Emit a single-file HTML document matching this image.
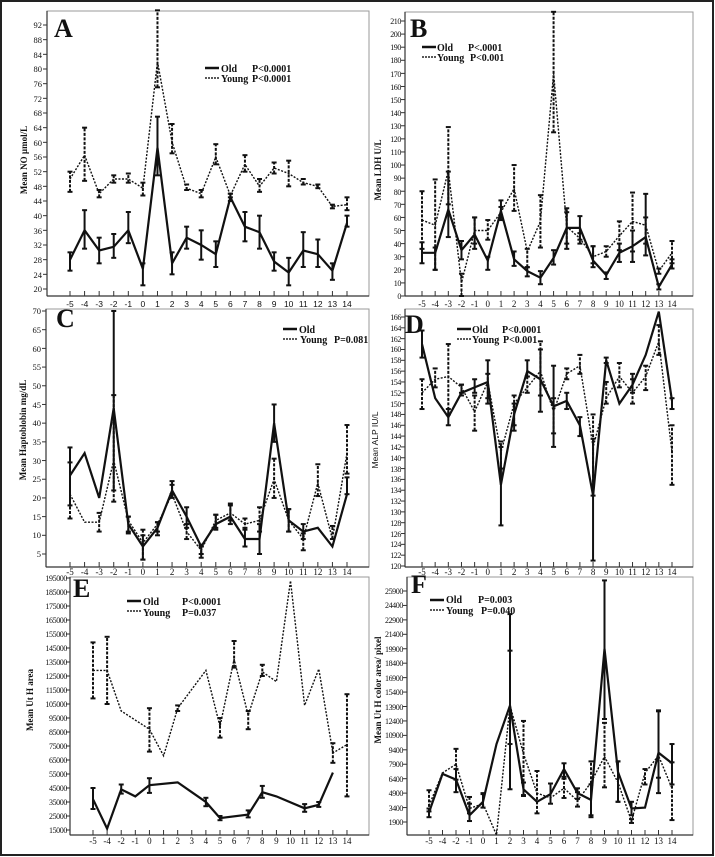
<!DOCTYPE html>
<html><head><meta charset="utf-8"><style>
html,body{margin:0;padding:0;background:#fff}
svg{display:block}
text{font-family:"Liberation Serif",serif;font-size:8.5px;fill:#111}
.yl{text-anchor:end}
.yn{text-anchor:end;font-size:8px;letter-spacing:-0.4px}
.xl{text-anchor:middle;font-size:9px}
.xs{text-anchor:middle;font-family:"Liberation Sans",sans-serif;font-size:8.5px}
.big{font-size:26px;font-weight:bold}
.lg{font-size:10px;font-weight:bold}
.at{font-size:9px;font-weight:bold}
</style></head><body>
<svg id="s" width="715" height="857" viewBox="0 0 715 857" xmlns="http://www.w3.org/2000/svg">
<rect x="1" y="1" width="712" height="854" fill="#fff" stroke="#222" stroke-width="2"/>
<g id="geo"></g>
<!-- Panel A -->
<text class="big" x="54" y="37">A</text>
<text class="lg" x="221" y="72">Old</text><text class="lg" x="252" y="72">P&lt;0.0001</text>
<text class="lg" x="221" y="82">Young</text><text class="lg" x="252" y="82">P&lt;0.0001</text>
<text class="at" transform="translate(27,160) rotate(-90)" text-anchor="middle">Mean NO µmol/L</text>
<text class="yl" x="42" y="28">92</text><text class="yl" x="42" y="43">88</text><text class="yl" x="42" y="58">84</text><text class="yl" x="42" y="72">80</text><text class="yl" x="42" y="87">76</text><text class="yl" x="42" y="102">72</text><text class="yl" x="42" y="116">68</text><text class="yl" x="42" y="131">64</text><text class="yl" x="42" y="146">60</text><text class="yl" x="42" y="160">56</text><text class="yl" x="42" y="175">52</text><text class="yl" x="42" y="190">48</text><text class="yl" x="42" y="204">44</text><text class="yl" x="42" y="219">40</text><text class="yl" x="42" y="234">36</text><text class="yl" x="42" y="248">32</text><text class="yl" x="42" y="263">28</text><text class="yl" x="42" y="278">24</text><text class="yl" x="42" y="292">20</text>
<text class="xs" x="70" y="307">-5</text><text class="xs" x="84.6" y="307">-4</text><text class="xs" x="99.2" y="307">-3</text><text class="xs" x="113.7" y="307">-2</text><text class="xs" x="128.3" y="307">-1</text><text class="xs" x="142.9" y="307">0</text><text class="xs" x="157.5" y="307">1</text><text class="xs" x="172.1" y="307">2</text><text class="xs" x="186.6" y="307">3</text><text class="xs" x="201.2" y="307">4</text><text class="xs" x="215.8" y="307">5</text><text class="xs" x="230.4" y="307">6</text><text class="xs" x="245" y="307">7</text><text class="xs" x="259.5" y="307">8</text><text class="xs" x="274.1" y="307">9</text><text class="xs" x="288.7" y="307">10</text><text class="xs" x="303.3" y="307">11</text><text class="xs" x="317.9" y="307">12</text><text class="xs" x="332.4" y="307">13</text><text class="xs" x="347" y="307">14</text>
<!-- Panel B -->
<text class="big" x="410" y="37">B</text>
<text class="lg" x="437" y="51">Old</text><text class="lg" x="468" y="51">P&lt;.0001</text>
<text class="lg" x="437" y="61">Young</text><text class="lg" x="470" y="61">P&lt;0.001</text>
<text class="at" transform="translate(381,170) rotate(-90)" text-anchor="middle">Mean LDH U/L</text>
<text class="yn" x="401" y="299">0</text><text class="yn" x="401" y="286">10</text><text class="yn" x="401" y="273">20</text><text class="yn" x="401" y="260">30</text><text class="yn" x="401" y="247">40</text><text class="yn" x="401" y="234">50</text><text class="yn" x="401" y="221">60</text><text class="yn" x="401" y="208">70</text><text class="yn" x="401" y="195">80</text><text class="yn" x="401" y="181">90</text><text class="yn" x="401" y="168">100</text><text class="yn" x="401" y="155">110</text><text class="yn" x="401" y="142">120</text><text class="yn" x="401" y="129">130</text><text class="yn" x="401" y="116">140</text><text class="yn" x="401" y="103">150</text><text class="yn" x="401" y="90">160</text><text class="yn" x="401" y="77">170</text><text class="yn" x="401" y="63">180</text><text class="yn" x="401" y="50">190</text><text class="yn" x="401" y="37">200</text><text class="yn" x="401" y="24">210</text>
<text class="xl" x="422" y="307">-5</text><text class="xl" x="435.2" y="307">-4</text><text class="xl" x="448.3" y="307">-3</text><text class="xl" x="461.5" y="307">-2</text><text class="xl" x="474.6" y="307">-1</text><text class="xl" x="487.8" y="307">0</text><text class="xl" x="501" y="307">1</text><text class="xl" x="514.1" y="307">2</text><text class="xl" x="527.3" y="307">3</text><text class="xl" x="540.4" y="307">4</text><text class="xl" x="553.6" y="307">5</text><text class="xl" x="566.8" y="307">6</text><text class="xl" x="579.9" y="307">7</text><text class="xl" x="593.1" y="307">8</text><text class="xl" x="606.2" y="307">9</text><text class="xl" x="619.4" y="307">10</text><text class="xl" x="632.6" y="307">11</text><text class="xl" x="645.7" y="307">12</text><text class="xl" x="658.9" y="307">13</text><text class="xl" x="672" y="307">14</text>
<!-- Panel C -->
<text class="big" x="56" y="327">C</text>
<text class="lg" x="299" y="333">Old</text>
<text class="lg" x="300" y="343">Young</text><text class="lg" x="334" y="343">P=0.081</text>
<text class="at" transform="translate(26,430) rotate(-90)" text-anchor="middle">Mean Haptoblobin mg/dL</text>
<text class="yl" x="41" y="557">5</text><text class="yl" x="41" y="538">10</text><text class="yl" x="41" y="520">15</text><text class="yl" x="41" y="501">20</text><text class="yl" x="41" y="482">25</text><text class="yl" x="41" y="464">30</text><text class="yl" x="41" y="445">35</text><text class="yl" x="41" y="426">40</text><text class="yl" x="41" y="408">45</text><text class="yl" x="41" y="389">50</text><text class="yl" x="41" y="370">55</text><text class="yl" x="41" y="352">60</text><text class="yl" x="41" y="333">65</text><text class="yl" x="41" y="314">70</text>
<text class="xl" x="70" y="575">-5</text><text class="xl" x="84.6" y="575">-4</text><text class="xl" x="99.2" y="575">-3</text><text class="xl" x="113.7" y="575">-2</text><text class="xl" x="128.3" y="575">-1</text><text class="xl" x="142.9" y="575">0</text><text class="xl" x="157.5" y="575">1</text><text class="xl" x="172.1" y="575">2</text><text class="xl" x="186.6" y="575">3</text><text class="xl" x="201.2" y="575">4</text><text class="xl" x="215.8" y="575">5</text><text class="xl" x="230.4" y="575">6</text><text class="xl" x="245" y="575">7</text><text class="xl" x="259.5" y="575">8</text><text class="xl" x="274.1" y="575">9</text><text class="xl" x="288.7" y="575">10</text><text class="xl" x="303.3" y="575">11</text><text class="xl" x="317.9" y="575">12</text><text class="xl" x="332.4" y="575">13</text><text class="xl" x="347" y="575">14</text>
<!-- Panel D -->
<text class="big" x="405" y="333">D</text>
<text class="lg" x="472" y="333">Old</text><text class="lg" x="502" y="333">P&lt;0.0001</text>
<text class="lg" x="472" y="343">Young</text><text class="lg" x="503" y="343">P&lt;0.001</text>
<text transform="translate(378,440) rotate(-90)" text-anchor="middle" style="font-family:'Liberation Sans',sans-serif;font-size:8.5px">Mean ALP IU/L</text>
<text class="yn" x="401" y="569">120</text><text class="yn" x="401" y="558">122</text><text class="yn" x="401" y="547">124</text><text class="yn" x="401" y="537">126</text><text class="yn" x="401" y="526">128</text><text class="yn" x="401" y="515">130</text><text class="yn" x="401" y="504">132</text><text class="yn" x="401" y="493">134</text><text class="yn" x="401" y="482">136</text><text class="yn" x="401" y="472">138</text><text class="yn" x="401" y="461">140</text><text class="yn" x="401" y="450">142</text><text class="yn" x="401" y="439">144</text><text class="yn" x="401" y="428">146</text><text class="yn" x="401" y="417">148</text><text class="yn" x="401" y="407">150</text><text class="yn" x="401" y="396">152</text><text class="yn" x="401" y="385">154</text><text class="yn" x="401" y="374">156</text><text class="yn" x="401" y="363">158</text><text class="yn" x="401" y="352">160</text><text class="yn" x="401" y="342">162</text><text class="yn" x="401" y="331">164</text><text class="yn" x="401" y="320">166</text>
<text class="xl" x="422" y="575">-5</text><text class="xl" x="435.2" y="575">-4</text><text class="xl" x="448.3" y="575">-3</text><text class="xl" x="461.5" y="575">-2</text><text class="xl" x="474.6" y="575">-1</text><text class="xl" x="487.8" y="575">0</text><text class="xl" x="501" y="575">1</text><text class="xl" x="514.1" y="575">2</text><text class="xl" x="527.3" y="575">3</text><text class="xl" x="540.4" y="575">4</text><text class="xl" x="553.6" y="575">5</text><text class="xl" x="566.8" y="575">6</text><text class="xl" x="579.9" y="575">7</text><text class="xl" x="593.1" y="575">8</text><text class="xl" x="606.2" y="575">9</text><text class="xl" x="619.4" y="575">10</text><text class="xl" x="632.6" y="575">11</text><text class="xl" x="645.7" y="575">12</text><text class="xl" x="658.9" y="575">13</text><text class="xl" x="672" y="575">14</text>
<!-- Panel E -->
<text class="big" x="73" y="597">E</text>
<text class="lg" x="143" y="605">Old</text><text class="lg" x="182" y="605">P&lt;0.0001</text>
<text class="lg" x="143" y="616">Young</text><text class="lg" x="182" y="616">P=0.037</text>
<text class="at" transform="translate(33,700) rotate(-90)" text-anchor="middle">Mean Ut H area</text>
<text class="yn" x="67" y="581">195000</text><text class="yn" x="67" y="595">185000</text><text class="yn" x="67" y="609">175000</text><text class="yn" x="67" y="623">165000</text><text class="yn" x="67" y="637">155000</text><text class="yn" x="67" y="651">145000</text><text class="yn" x="67" y="665">135000</text><text class="yn" x="67" y="679">125000</text><text class="yn" x="67" y="693">115000</text><text class="yn" x="67" y="707">105000</text><text class="yn" x="67" y="721">95000</text><text class="yn" x="67" y="735">85000</text><text class="yn" x="67" y="749">75000</text><text class="yn" x="67" y="763">65000</text><text class="yn" x="67" y="777">55000</text><text class="yn" x="67" y="791">45000</text><text class="yn" x="67" y="805">35000</text><text class="yn" x="67" y="819">25000</text><text class="yn" x="67" y="833">15000</text>
<text class="xl" x="93" y="844">-5</text><text class="xl" x="107.1" y="844">-4</text><text class="xl" x="121.2" y="844">-2</text><text class="xl" x="135.3" y="844">-1</text><text class="xl" x="149.4" y="844">0</text><text class="xl" x="163.6" y="844">1</text><text class="xl" x="177.7" y="844">2</text><text class="xl" x="191.8" y="844">3</text><text class="xl" x="205.9" y="844">4</text><text class="xl" x="220" y="844">5</text><text class="xl" x="234.1" y="844">6</text><text class="xl" x="248.2" y="844">7</text><text class="xl" x="262.3" y="844">8</text><text class="xl" x="276.4" y="844">9</text><text class="xl" x="290.5" y="844">10</text><text class="xl" x="304.7" y="844">11</text><text class="xl" x="318.8" y="844">12</text><text class="xl" x="332.9" y="844">13</text><text class="xl" x="347" y="844">14</text>
<!-- Panel F -->
<text class="big" x="411" y="593">F</text>
<text class="lg" x="446" y="603">Old</text><text class="lg" x="478" y="603">P=0.003</text>
<text class="lg" x="446" y="614">Young</text><text class="lg" x="481" y="614">P=0.040</text>
<text class="at" transform="translate(381,690) rotate(-90)" text-anchor="middle">Mean Ut H color area/ pixel</text>
<text class="yn" x="403" y="825">1900</text><text class="yn" x="403" y="811">3400</text><text class="yn" x="403" y="796">4900</text><text class="yn" x="403" y="782">6400</text><text class="yn" x="403" y="767">7900</text><text class="yn" x="403" y="753">9400</text><text class="yn" x="403" y="738">10900</text><text class="yn" x="403" y="724">12400</text><text class="yn" x="403" y="710">13900</text><text class="yn" x="403" y="695">15400</text><text class="yn" x="403" y="681">16900</text><text class="yn" x="403" y="666">18400</text><text class="yn" x="403" y="652">19900</text><text class="yn" x="403" y="637">21400</text><text class="yn" x="403" y="623">22900</text><text class="yn" x="403" y="608">24400</text><text class="yn" x="403" y="594">25900</text>
<text class="xl" x="429" y="844">-5</text><text class="xl" x="442.5" y="844">-4</text><text class="xl" x="456" y="844">-2</text><text class="xl" x="469.5" y="844">-1</text><text class="xl" x="483" y="844">0</text><text class="xl" x="496.5" y="844">1</text><text class="xl" x="510" y="844">2</text><text class="xl" x="523.5" y="844">3</text><text class="xl" x="537" y="844">4</text><text class="xl" x="550.5" y="844">5</text><text class="xl" x="564" y="844">6</text><text class="xl" x="577.5" y="844">7</text><text class="xl" x="591" y="844">8</text><text class="xl" x="604.5" y="844">9</text><text class="xl" x="618" y="844">10</text><text class="xl" x="631.5" y="844">11</text><text class="xl" x="645" y="844">12</text><text class="xl" x="658.5" y="844">13</text><text class="xl" x="672" y="844">14</text>
</svg>
<script>
(function(){
var g=document.getElementById('geo'),NS='http://www.w3.org/2000/svg';
function el(t,a){var e=document.createElementNS(NS,t);for(var k in a)e.setAttribute(k,a[k]);g.appendChild(e);return e;}
function line(x1,y1,x2,y2,w,c,d){var a={x1:x1,y1:y1,x2:x2,y2:y2,stroke:c||'#111','stroke-width':w||1};if(d)a['stroke-dasharray']=d;el('line',a);}
function panel(p){
 el('rect',{x:p.L,y:p.T,width:p.R-p.L,height:p.B-p.T,fill:'none',stroke:'#999','stroke-width':1});
 line(p.L,p.T,p.L,p.B,1.2,'#333');line(p.L,p.B,p.R,p.B,1.2,'#333');
 p.yt.forEach(function(y){line(p.L-4,y,p.L,y,1,'#333');});
 p.xt.forEach(function(x){line(x,p.B-5,x,p.B,1,'#333');});
 line(p.lg[0],p.lg[1],p.lg[0]+14,p.lg[1],2.5,'#111');
 line(p.lg[0],p.lg[1]+10,p.lg[0]+14,p.lg[1]+10,1.5,'#222','2,1');
 function ser(d,w,dash,bdash){
  var pts=d.map(function(r){return p.X(r[0]).toFixed(1)+','+p.Y(r[1]).toFixed(1);}).join(' ');
  var a={points:pts,fill:'none',stroke:'#111','stroke-width':w,'stroke-linejoin':'miter'};if(dash)a['stroke-dasharray']=dash;el('polyline',a);
  d.forEach(function(r){if(r.length<4)return;var x=p.X(r[0]),y1=p.Y(r[2]),y2=p.Y(r[3]);
   line(x,y1,x,y2,2,'#111',bdash);line(x-2.5,y1,x+2.5,y1,2,'#111');line(x-2.5,y2,x+2.5,y2,2,'#111');});
 }
 ser(p.young,1.4,'2,1.5','3,1.5');
 ser(p.old,2.2,null,null);
}
function lin(v0,px0,v1,px1){return function(v){return px0+(v-v0)*(px1-px0)/(v1-v0);};}
function range(a,b,s){var r=[];for(var v=a;v<=b+1e-9;v+=s)r.push(v);return r;}
var idx=[-5,-4,-2,-1,0,1,2,3,4,5,6,7,8,9,10,11,12,13,14];
function kmap(x0,dx){return function(i){var k=idx.indexOf(Math.round(i));if(k<0)k=idx.indexOf(Math.floor(i))+(i-Math.floor(i));return x0+k*dx;};}
var XA=lin(-5,70,14,347),YA=lin(92,25,20,289);
panel({L:47,T:11,R:369,B:296,X:XA,Y:YA,yt:range(20,92,4).map(YA),xt:range(-5,14,1).map(XA),lg:[205,68],
old:[[-5,28,25,30],[-4,36,31,41.5],[-3,30.5,27,34],[-2,31.5,28.5,35],[-1,36,32.5,41],[0,25.5,21,27],[1,58.5,51,67],[2,27,24,30],[3,34,31,37],[4,32,28,36],[5,29.5,26,33],[6,45,44,46],[7,37,33,41],[8,35.5,31,40],[9,27.5,25,30],[10,24.5,21,28.5],[11,30.5,26,35.5],[12,29.5,26,33.5],[13,25,22.5,27],[14,38,37,40]],
young:[[-5,50,46.5,52],[-4,56.5,49.5,64],[-3,46,45,47],[-2,50,49,51],[-1,50,49,51.5],[0,47.5,45.5,49],[1,82,75,96],[2,60,57,65],[3,47.5,47,48.5],[4,46,45,47],[5,56,54,59.5],[6,45.5,45,46],[7,54,52,56.5],[8,48,46.5,50],[9,53,51.5,54.5],[10,51.5,48,55],[11,49,48.5,50],[12,48,47.5,48.5],[13,42.5,42,43],[14,43,41.5,45]]});
var XB=lin(-5,422,14,672),YB=lin(0,296,210,21);
panel({L:405,T:12,R:693,B:296,X:XB,Y:YB,yt:range(0,210,10).map(YB),xt:range(-5,14,1).map(XB),lg:[422,47],
old:[[-5,33,25,41],[-4,33,20,37],[-3,66,45,95],[-2,35,28,42],[-1,47,36,60],[0,27,20,30],[1,65,58,73],[2,28,23,34],[3,19,15,22],[4,14,9,19],[5,29,24,35],[6,52,36,64],[7,52,43,61],[8,27,22,38],[9,16,13,18],[10,33,26,40],[11,38,26,50],[12,45,31,78],[13,7,5,9],[14,24,21,28]],
young:[[-5,58,36,80],[-4,54,20,89],[-3,96,70,129],[-2,10,0,17],[-1,50,40,60],[0,50,43,58],[1,64,60,68],[2,82,65,100],[3,34,22,36],[4,57,37,77],[5,170,125,217],[6,53,40,67],[7,44,40,48],[8,30,25,38],[9,34,30,38],[10,46,35,57],[11,57,34,79],[12,54,40,60],[13,19,17,21],[14,33,25,42]]});
var YC=lin(5,554,70,311);
panel({L:46,T:309,R:369,B:567,X:XA,Y:YC,yt:range(5,70,5).map(YC),xt:range(-5,14,1).map(XA),lg:[283,329],
old:[[-5,26,18,33.5],[-4,32],[-3,20],[-2,44,22,70],[-1,13,10.5,15],[0,7,3.5,10],[1,12,10,13.5],[2,22,21,24.5],[3,15,12,17.5],[4,7,5,7.5],[5,13,11.5,15.5],[6,15,13,18.5],[7,9,7,12],[8,9,5,13],[9,40,35,45],[10,14,11,17],[11,11,9,13],[12,12],[13,7],[14,21,21,25.5]],
young:[[-5,21,14.5,29.5],[-4,13.5],[-3,13.5,11,16],[-2,30,19,47.5],[-1,14,11,15],[0,8,3.5,11.5],[1,13,11,13.5],[2,21,20,23.5],[3,11,9,13],[4,6,4,7],[5,14,12,15.5],[6,16,14,18],[7,13,11.5,14.5],[8,14,11,17.5],[9,25,20,30.5],[10,14,11,17],[11,9,6,10.5],[12,24,20.5,29],[13,9,9,12.5],[14,32,26.5,39.5]]});
var YD=lin(120,566,166,317);
panel({L:405,T:309,R:693,B:567,X:XB,Y:YD,yt:range(120,166,2).map(YD),xt:range(-5,14,1).map(XB),lg:[457,329],
old:[[-5,161,158.5,163.5],[-4,151],[-3,147.5,146,149],[-2,152,151.5,153.5],[-1,153,152,154.5],[0,154,150,158],[1,135,127.5,142],[2,148,145,150],[3,156,155,158],[4,154.5,148.5,160],[5,149.5,142,157],[6,150.5,149,152],[7,146,144,147.5],[8,133,121,143.5],[9,158,157.5,158.5],[10,150],[11,153.5,152,155.5],[12,159],[13,167],[14,150.5,149,151]],
young:[[-5,152,149,154.5],[-4,154.5,153,156.5],[-3,155,148,161],[-2,153,152,153.5],[-1,148.5,145,151.5],[0,154,151,155.5],[1,141,138,143],[2,150,146,151.5],[3,153,152,155],[4,156,151.5,161.5],[5,148.5,144.5,151],[6,155.5,154.5,156.5],[7,157,155.5,159],[8,142,133,148],[9,151,150,154],[10,155,153,157.5],[11,152,150,154.5],[12,155,152.5,157],[13,161.5,159,164.5],[14,141,135,146]]});
var XE=kmap(93,14.11),YE=lin(185000,592,15000,830);
panel({L:70,T:577,R:369,B:835,X:XE,Y:YE,yt:range(15000,195000,10000).map(YE),xt:idx.map(XE),lg:[127,601],
old:[[-5,37000,30000,45000],[-4,16000],[-2,44000,41000,47500],[-1,39000],[0,47000,41500,52000],[2,49000],[3,42000],[4,35000,32000,38000],[5,23500,22000,25000],[7,26000,24000,29000],[8,42000,38000,46500],[9,39000],[11,30500,28000,33500],[12,33000,31500,35000],[13,56000]],
young:[[-5,129000,109000,149000],[-4,129000,105000,153000],[-2,100000],[0,87000,71000,102000],[1,68000],[2,102000,100000,104000],[4,129000],[5,89000,81000,95000],[6,137000,131000,150000],[7,97000,87000,100000],[8,128000,125000,133000],[9,121000],[10,193000],[11,104000],[12,130000],[13,70000,63000,77000],[14,76000,39000,112000]]});
var XF=kmap(429,13.5),YF=lin(1900,822,25900,591);
panel({L:407,T:577,R:693,B:835,X:XF,Y:YF,yt:range(1900,25900,1500).map(YF),xt:idx.map(XF),lg:[430,600],
old:[[-5,2900,2400,3300],[-4,6900],[-2,6300,5000,7400],[-1,2600,2000,3800],[0,4000,3400,4900],[1,10000],[2,14000,5300,23500],[3,5300,4600,6000],[4,4000],[5,4800,3800,5900],[6,7400,6400,8000],[7,4900,4300,5400],[8,4200,2400,5800],[9,19900,12600,27000],[10,7100,4000,8200],[11,3300,2600,4000],[12,3400],[13,9100,4900,13500],[14,8000,5800,10000]],
young:[[-5,3600,3000,5200],[-4,7000],[-2,7900,6300,9500],[-1,3300,2800,4500],[0,3800,3400,4800],[1,550],[2,14000,10000,19700],[3,9000,4700,12400],[4,4900,2800,7200],[5,4400],[6,5400,4400,6600],[7,4100,3500,5000],[8,6000,2600,8200],[9,8700,5500,12200],[10,6000,4000,8200],[11,2000,1800,2200],[12,7000,5800,7400],[13,8800,6500,13400],[14,5400,2100,8100]]});
})();
</script>
</body></html>
